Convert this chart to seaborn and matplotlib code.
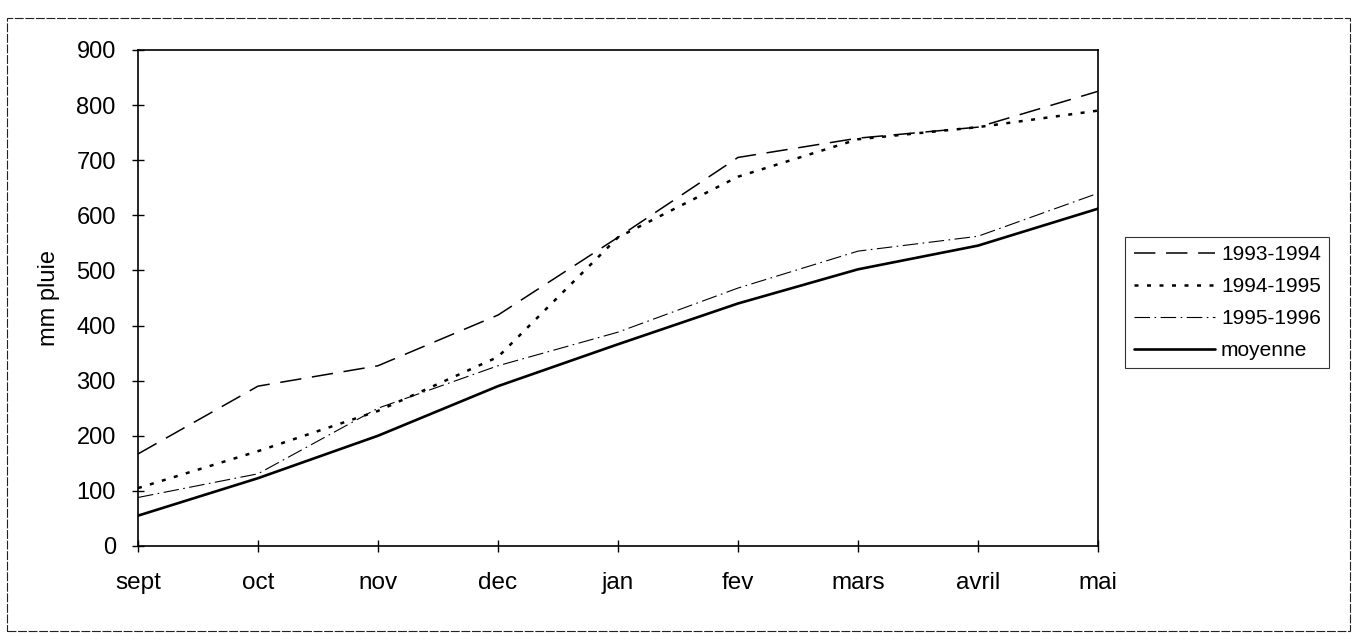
import matplotlib
matplotlib.use("Agg")
import matplotlib.pyplot as plt
from matplotlib.patches import Rectangle
import pandas as pd
import seaborn as sns

# donnees (pluie cumulee, mm)
mois = ['sept', 'oct', 'nov', 'dec', 'jan', 'fev', 'mars', 'avril', 'mai']
pluie_93_94 = [167, 290, 327, 419, 560, 705, 740, 760, 825]
pluie_94_95 = [105, 172, 245, 343, 560, 670, 738, 760, 790]
pluie_95_96 = [88, 131, 250, 327, 388, 468, 535, 562, 640]
moyenne = [55, 123, 200, 290, 366, 440, 502, 545, 612]

series = ['1993-1994', '1994-1995', '1995-1996', 'moyenne']
valeurs = [pluie_93_94, pluie_94_95, pluie_95_96, moyenne]

# styles de trait (epaisseur, motif)
styles = {
    '1993-1994': dict(lw=1.1, ls=(0, (14, 7))),
    '1994-1995': dict(lw=1.8, ls=(0, (1.6, 3.4))),
    '1995-1996': dict(lw=0.8, ls=(0, (14, 4, 1.5, 4))),
    'moyenne': dict(lw=1.9, ls='-'),
}

df = pd.DataFrame({
    'mois': mois * len(series),
    'pluie': [v for vals in valeurs for v in vals],
    'serie': [s for s in series for _ in mois],
})

sns.set_theme(style='white')
plt.rcParams['font.family'] = ['Liberation Sans', 'DejaVu Sans']
plt.rcParams['text.color'] = 'black'
plt.rcParams['axes.labelcolor'] = 'black'

fig = plt.figure(figsize=(13.54, 6.4), dpi=100)
ax = fig.add_axes([0.1019, 0.1469, 0.709, 0.775])

for s in series:
    sns.lineplot(data=df[df['serie'] == s], x='mois', y='pluie', ax=ax,
                 color='black', label=s, sort=False, **styles[s])

ax.set_xlim(0, len(mois) - 1)
ax.set_ylim(0, 900)
ax.set_yticks(range(0, 901, 100))
ax.set_xlabel('')
ax.set_ylabel('mm pluie', fontsize=17, labelpad=12)

for sp in ax.spines.values():
    sp.set_color('black')
    sp.set_linewidth(1.2)

ax.tick_params(axis='y', direction='inout', length=8, width=1, color='black',
               labelcolor='black', labelsize=17, pad=12, left=True)
ax.tick_params(axis='x', direction='inout', length=8, width=1, color='black',
               labelcolor='black', labelsize=17.5, pad=15, bottom=True)

leg = ax.legend(loc='upper left', bbox_to_anchor=(0.831, 0.630),
                bbox_transform=fig.transFigure, fontsize=15, frameon=True,
                fancybox=False, borderaxespad=0, handlelength=3.9,
                handletextpad=0.3, labelspacing=0.62, borderpad=0.4)
leg.get_frame().set_edgecolor('black')
leg.get_frame().set_linewidth(0.8)
for t in leg.get_texts():
    t.set_color('black')

# cadre exterieur du graphique
fig.add_artist(Rectangle((0.0052, 0.014), 0.9918, 0.958, transform=fig.transFigure,
                         fill=False, ec='#222222', lw=0.8, ls=(0, (8, 1.5))))

fig.savefig('out.png', dpi=100)
